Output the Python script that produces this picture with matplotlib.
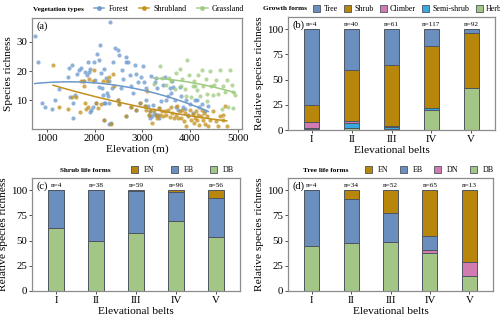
import numpy as np
import matplotlib
matplotlib.use("Agg")
import matplotlib.pyplot as plt
from matplotlib.lines import Line2D
from matplotlib.patches import Patch

plt.rcParams['font.family'] = ['Liberation Serif', 'DejaVu Serif']

# ---------------- data: panel (a) ----------------
forest_x = [747, 824, 909, 965, 1119, 1175, 1246, 1435, 1456, 1526, 1484, 1540, 1540, 1597, 1639, 1681,
            1709, 1772, 1807, 1833, 1870, 1890, 1898, 1927, 1898, 1960, 1982, 2010, 2030, 2060, 2088, 2102,
            2123, 2144, 2151, 2172, 2200, 2193, 2214, 2243, 2256, 2277, 2298, 2298, 2312, 2334, 2348, 2369,
            2383, 2439, 2488, 2523, 2558, 2580, 2607, 2650, 2664, 2706, 2734, 2769, 2804, 2839, 2874, 2910,
            2980, 3015, 3029, 3071, 3085, 3120, 3155, 3190, 3225, 3239, 3260, 3295, 3310, 3331, 3352, 3401,
            3436, 3471, 3492, 3541, 3576, 3612, 3632, 3646, 3682, 3717, 3752, 3787, 3822, 3857, 3892, 3927,
            3962, 3997, 4054, 4103, 4152, 4194, 4243, 4314, 4384,
            2207, 2488, 2523, 2664, 2769, 2874, 2945, 3050, 3134, 3169, 3281, 3352, 3211]
forest_y = [32.1, 23.1, 9.1, 7.9, 7.0, 10.2, 13.9, 18.0, 21.1, 22.1, 11.1, 9.1, 4.0, 11.9, 19.1, 20.3,
            21.1, 16.5, 19.7, 18.8, 23.0, 19.7, 20.7, 6.8, 5.9, 7.9, 23.0, 17.1, 9.1, 26.0, 23.9, 14.6,
            29.1, 19.3, 14.2, 11.9, 20.7, 9.1, 9.1, 17.6, 12.5, 11.4, 9.1, 2.0, 16.8, 37.0, 2.3, 14.2,
            23.3, 27.9, 27.1, 25.6, 14.2, 20.5, 17.3, 25.0, 23.0, 23.3, 18.8, 14.8, 12.5, 22.1, 19.1, 16.2,
            18.0, 21.6, 16.2, 14.2, 10.2, 8.2, 4.0, 18.2, 8.5, 5.7, 16.2, 17.6, 14.2, 5.1, 4.0, 9.7,
            15.4, 18.0, 10.2, 11.4, 14.2, 12.5, 16.5, 14.6, 10.2, 7.7, 6.8, 14.6, 11.4, 7.9, 7.0, 10.2,
            5.1, 8.9, 5.7, 10.2, 10.2, 7.9, 8.9, 6.2, 8.2,
            3.2, 10.2, 8.9, 4.8, 7.9, 6.8, 9.1, 8.2, 5.1, 6.2, 5.1, 7.4, 4.5]

shrub_x = [1133, 1260, 1435, 1519, 1611, 1702, 1716, 1751, 1786, 1807, 1821, 1856, 1890, 1960, 1996, 2030,
           2074, 2137, 2186, 2207, 2256, 2312, 2348, 2383, 2418, 2488, 2523, 2664, 2769, 2874, 2945, 3050,
           3085, 3099, 3134, 3169, 3211, 3239, 3281, 3310, 3352, 3380, 3408, 3436, 3471, 3506, 3541, 3576,
           3604, 3632, 3660, 3703, 3731, 3759, 3787, 3822, 3843, 3871, 3899, 3927, 3962, 3997, 4018, 4054,
           4082, 4103, 4124, 4152, 4173, 4194, 4222, 4243, 4264, 4292, 4314, 4349, 4384, 4419, 4489, 4545,
           4595, 4630, 4686, 4735, 4770, 4700]
shrub_y = [22.1, 7.9, 7.0, 11.1, 11.1, 5.9, 16.8, 16.8, 15.0, 9.1, 7.0, 7.7, 17.3, 16.5, 20.5, 9.1,
           7.4, 8.9, 16.5, 3.2, 16.8, 18.0, 2.0, 19.1, 14.8, 10.2, 8.9, 4.8, 7.9, 6.8, 9.1, 8.2,
           6.8, 13.1, 5.1, 6.2, 2.2, 6.8, 5.1, 4.0, 7.4, 5.1, 6.2, 4.5, 6.2, 5.1, 6.8, 4.3,
           7.9, 5.7, 4.0, 5.1, 8.2, 4.0, 6.2, 4.0, 6.8, 2.8, 5.7, 1.1, 4.5, 6.6, 3.4, 5.4,
           2.2, 4.0, 6.2, 3.4, 5.1, 1.7, 4.5, 6.8, 3.4, 5.7, 2.0, 4.5, 1.1, 3.4, 6.2, 2.8,
           1.1, 4.5, 5.1, 8.2, 1.1, 3.4]

grass_x = [3240, 3366, 3408, 3506, 3562, 3612, 3682, 3717, 3787, 3822, 3843, 3892, 3941, 3983, 4011, 4054,
           4082, 4138, 4173, 4208, 4243, 4278, 4335, 4363, 4419, 4433, 4475, 4503, 4545, 4595, 4630, 4665,
           4700, 4735, 4770, 4805, 4840, 4875, 4910, 4945, 4910, 4103, 4349, 3927]
grass_y = [15.5, 21.6, 17.6, 15.4, 17.6, 16.5, 13.9, 19.3, 20.7, 15.0, 17.3, 13.9, 23.9, 18.8, 11.1, 15.0,
           16.5, 13.6, 18.8, 11.4, 20.3, 15.0, 17.3, 12.3, 19.9, 15.0, 11.9, 15.4, 17.1, 12.3, 20.5, 7.0,
           14.8, 12.7, 17.1, 7.7, 20.5, 15.4, 12.7, 11.9, 7.4, 15.0, 9.7, 11.4]

veg_types = ['Forest', 'Shrubland', 'Grassland']

# ---------------- data: bar panels ----------------
belts = ['I', 'II', 'III', 'IV', 'V']

growth_forms = ['Tree', 'Shrub', 'Climber', 'Semi-shrub', 'Herb']
growth_n = [4, 40, 61, 117, 92]
gf_herb = [1, 2, 0.5, 20, 42]
gf_semishrub = [1, 5, 2, 1.5, 0]
gf_climber = [6, 2, 1.5, 0.5, 0]
gf_shrub = [17, 50, 60, 61, 54]
gf_tree = [75, 41, 36, 17, 4]

shrub_forms = ['EN', 'EB', 'DB']
shrub_n = [4, 38, 59, 96, 56]
sh_DB = [62, 50, 57, 69, 54]
sh_EB = [38, 50, 42.5, 29, 38]
sh_EN = [0, 0, 0.5, 2, 8]

tree_forms = ['EN', 'EB', 'DN', 'DB']
tree_n = [4, 34, 52, 65, 13]
tr_DB = [45, 48, 49, 38, 15]
tr_DN = [0, 0, 0, 3, 14]
tr_EB = [55, 43, 28, 14, 0]
tr_EN = [0, 9, 23, 45, 71]

# ---------------- colours ----------------
C_TREE = '#6A8EBE'
C_SHRUB = '#B8860B'
C_CLIMB = '#D27BB0'
C_SEMI = '#3AA8E0'
C_HERB = '#A3C585'
C_FOREST = '#6C98CC'
C_SHRUBL = '#C4901C'
C_GRASS = '#9ECB7E'

FS_TICK = 7.8
FS_LAB = 8.2
FS_LEG = 5.8
FS_LEGT = 5.2
FS_N = 5.2
FS_TAG = 7.5

W, H = 500, 319
fig = plt.figure(figsize=(W / 100, H / 100), dpi=100)


def px_axes(l, t, r, b):
    return fig.add_axes([l / W, 1 - b / H, (r - l) / W, (b - t) / H])


def style_axes(ax):
    for s in ax.spines.values():
        s.set_color('#8c8c8c')
        s.set_linewidth(0.9)
    ax.tick_params(axis='both', labelsize=FS_TICK, length=2.5, width=0.6, color='#333333', pad=1.2)


# ---------------- panel (a) ----------------
ax = px_axes(32, 18, 242, 129)
style_axes(ax)
for xs_, ys_, col in [(forest_x, forest_y, C_FOREST), (shrub_x, shrub_y, C_SHRUBL), (grass_x, grass_y, C_GRASS)]:
    ax.scatter(xs_, ys_, s=9, color=col, alpha=0.75, linewidths=0, zorder=2)
    gx = np.linspace(min(xs_), max(xs_), 80)
    coef = np.polyfit(xs_, ys_, 2)
    ax.plot(gx, np.polyval(coef, gx), color=col, lw=1.1, zorder=3)
ax.set_xlim(690, 5090)
ax.set_ylim(0.2, 38.2)
ax.set_xticks([1000, 2000, 3000, 4000, 5000])
ax.set_yticks([10, 20, 30])
ax.set_xlabel('Elevation (m)', fontsize=FS_LAB, labelpad=1)
ax.set_ylabel('Species richness', fontsize=FS_LAB, labelpad=2)
ax.text(0.02, 0.97, '(a)', transform=ax.transAxes, ha='left', va='top', fontsize=FS_TAG)

fig.text(33 / W, 1 - 9 / H, 'Vegetation types', fontsize=FS_LEGT, fontweight='bold', va='center', ha='left')
hs = [Line2D([], [], color=c, lw=1.1, marker='o', markersize=2.5, alpha=0.9) for c in (C_FOREST, C_SHRUBL, C_GRASS)]
fig.legend(hs, veg_types, loc='center left', bbox_to_anchor=(94 / W, 1 - 9 / H), ncol=3, frameon=False,
           fontsize=FS_LEG, handlelength=1.3, handletextpad=0.5, columnspacing=1.3, borderpad=0, borderaxespad=0)


# ---------------- bar helper ----------------
def stacked(ax, layers, ns):
    x = np.arange(1, 6)
    bottom = np.zeros(5)
    for vals, col in layers:
        v = np.asarray(vals, float)
        ax.bar(x, v, 0.38, bottom=bottom, color=col, edgecolor='#4d5560', linewidth=0.7, zorder=2)
        bottom += v
    for xi, n in zip(x, ns):
        ax.text(xi, 102.5, f'n={n}', ha='center', va='bottom', fontsize=FS_N)
    ax.set_xlim(0.4, 5.6)
    ax.set_ylim(0, 112)
    ax.set_xticks(x)
    ax.set_xticklabels(belts)
    ax.set_yticks([0, 25, 50, 75, 100])
    ax.set_xlabel('Elevational belts', fontsize=FS_LAB, labelpad=1)
    ax.set_ylabel('Relative species richness', fontsize=FS_LAB, labelpad=2)
    style_axes(ax)


def squares(cols):
    return [Patch(facecolor=c, edgecolor='#4d5560', linewidth=0.6) for c in cols]


# ---------------- panel (b) ----------------
ax = px_axes(288, 17, 495, 130)
stacked(ax, [(gf_herb, C_HERB), (gf_semishrub, C_SEMI), (gf_climber, C_CLIMB), (gf_shrub, C_SHRUB), (gf_tree, C_TREE)], growth_n)
ax.text(0.02, 0.97, '(b)', transform=ax.transAxes, ha='left', va='top', fontsize=FS_TAG)
fig.text(263 / W, 1 - 9 / H, 'Growth forms', fontsize=FS_LEGT, fontweight='bold', va='center', ha='left')
fig.legend(squares([C_TREE, C_SHRUB, C_CLIMB, C_SEMI, C_HERB]), growth_forms, loc='center left',
           bbox_to_anchor=(313 / W, 1 - 9 / H), ncol=5, frameon=False, fontsize=FS_LEG, handlelength=0.9,
           handleheight=0.9, handletextpad=0.4, columnspacing=0.75, borderpad=0, borderaxespad=0)

# ---------------- panel (c) ----------------
ax = px_axes(32, 178, 240, 291)
stacked(ax, [(sh_DB, C_HERB), (sh_EB, C_TREE), (sh_EN, C_SHRUB)], shrub_n)
ax.text(0.02, 0.97, '(c)', transform=ax.transAxes, ha='left', va='top', fontsize=FS_TAG)
fig.text(60 / W, 1 - 170 / H, 'Shrub life forms', fontsize=FS_LEGT, fontweight='bold', va='center', ha='left')
fig.legend(squares([C_SHRUB, C_TREE, C_HERB]), shrub_forms, loc='center left',
           bbox_to_anchor=(131 / W, 1 - 170 / H), ncol=3, frameon=False, fontsize=FS_LEG, handlelength=0.9,
           handleheight=0.9, handletextpad=0.7, columnspacing=2.0, borderpad=0, borderaxespad=0)

# ---------------- panel (d) ----------------
ax = px_axes(288, 178, 493, 291)
stacked(ax, [(tr_DB, C_HERB), (tr_DN, C_CLIMB), (tr_EB, C_TREE), (tr_EN, C_SHRUB)], tree_n)
ax.text(0.02, 0.97, '(d)', transform=ax.transAxes, ha='left', va='top', fontsize=FS_TAG)
fig.text(303 / W, 1 - 170 / H, 'Tree life forms', fontsize=FS_LEGT, fontweight='bold', va='center', ha='left')
fig.legend(squares([C_SHRUB, C_TREE, C_CLIMB, C_HERB]), tree_forms, loc='center left',
           bbox_to_anchor=(365 / W, 1 - 170 / H), ncol=4, frameon=False, fontsize=FS_LEG, handlelength=0.9,
           handleheight=0.9, handletextpad=0.7, columnspacing=1.4, borderpad=0, borderaxespad=0)

fig.savefig('out.png', dpi=100)
